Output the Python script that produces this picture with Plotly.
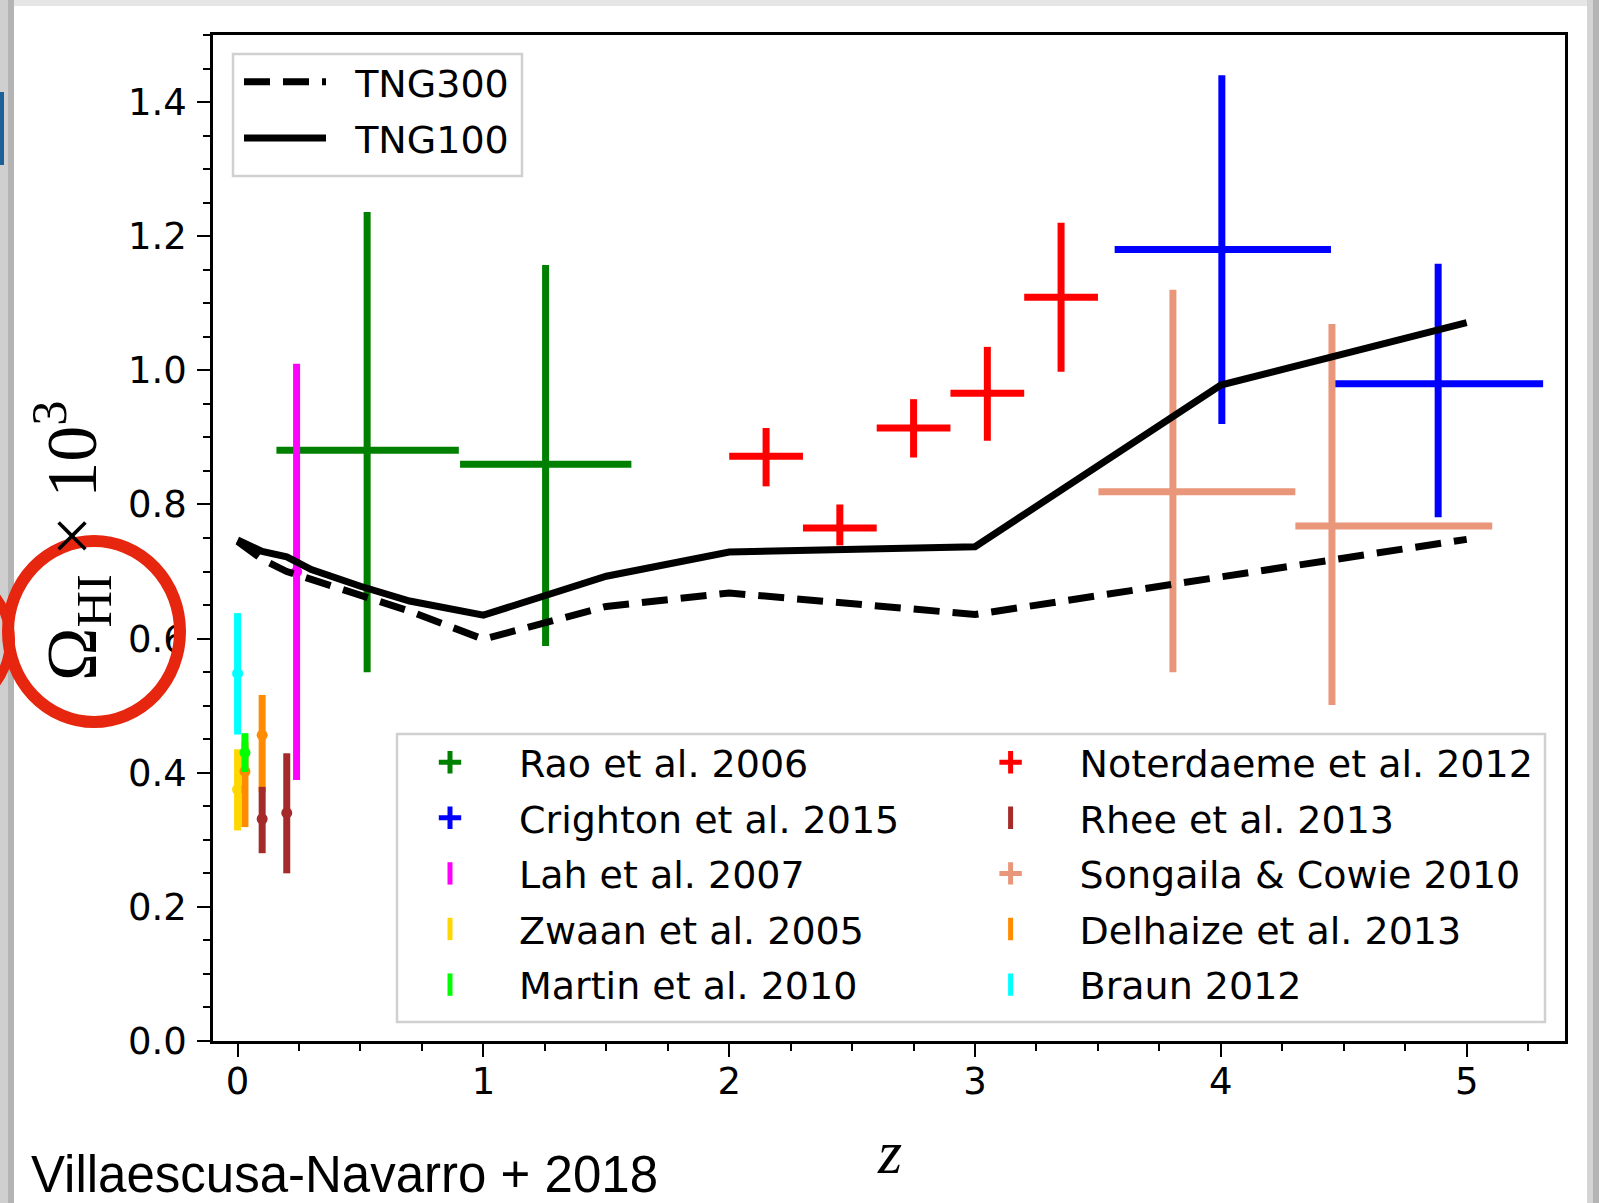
import plotly.graph_objects as go

# ---------------- data ----------------
tng_z = [0.0, 0.1, 0.2, 0.3, 0.5, 0.7, 1.0, 1.5, 2.0, 3.0, 4.0, 5.0]
tng300_omega = [0.745, 0.718, 0.700, 0.688, 0.664, 0.641, 0.599, 0.648, 0.668, 0.636, 0.692, 0.748]
tng100_omega = [0.747, 0.730, 0.722, 0.703, 0.678, 0.656, 0.635, 0.693, 0.729, 0.737, 0.978, 1.071]

# data with z-bins (xerr) and yerr
rao_z = [0.527, 1.253]
rao_zlo = [0.158, 0.905]
rao_zhi = [0.900, 1.602]
rao_om = [0.881, 0.860]
rao_lo = [0.550, 0.589]
rao_hi = [1.236, 1.157]

crighton_z = [4.004, 4.884]
crighton_zlo = [3.568, 4.461]
crighton_zhi = [4.448, 5.311]
crighton_om = [1.180, 0.980]
crighton_lo = [0.920, 0.781]
crighton_hi = [1.440, 1.159]

noter_z = [2.15, 2.45, 2.75, 3.05, 3.35]
noter_zlo = [2.0, 2.3, 2.6, 2.9, 3.2]
noter_zhi = [2.3, 2.6, 2.9, 3.2, 3.5]
noter_om = [0.872, 0.765, 0.914, 0.966, 1.109]
noter_lo = [0.827, 0.739, 0.870, 0.895, 0.998]
noter_hi = [0.914, 0.800, 0.957, 1.035, 1.220]

songaila_z = [3.805, 4.452]
songaila_zlo = [3.502, 4.303]
songaila_zhi = [4.303, 5.104]
songaila_om = [0.819, 0.768]
songaila_lo = [0.550, 0.501]
songaila_hi = [1.120, 1.069]

# data with yerr only
lah_z = [0.24]
lah_om = [0.700]
lah_lo = [0.389]
lah_hi = [1.010]

zwaan_z = [0.0]
zwaan_om = [0.375]
zwaan_lo = [0.314]
zwaan_hi = [0.435]

martin_z = [0.03]
martin_om = [0.430]
martin_lo = [0.401]
martin_hi = [0.459]

rhee_z = [0.10, 0.20]
rhee_om = [0.331, 0.340]
rhee_lo = [0.280, 0.250]
rhee_hi = [0.379, 0.429]

delhaize_z = [0.03, 0.10]
delhaize_om = [0.402, 0.456]
delhaize_lo = [0.319, 0.371]
delhaize_hi = [0.446, 0.516]

braun_z = [0.0]
braun_om = [0.548]
braun_lo = [0.457]
braun_hi = [0.638]

x_ticks = [0, 1, 2, 3, 4, 5]
y_ticks = [0.0, 0.2, 0.4, 0.6, 0.8, 1.0, 1.2, 1.4]
y_tick_text = ["0.0", "0.2", "0.4", "0.6", "0.8", "1.0", "1.2", "1.4"]

# ---------------- layout geometry ----------------
W, H = 1599, 1203
ML, MR, MT, MB = 213, 34, 35, 162
PW = W - ML - MR
PH = H - MT - MB


def pxx(px):
    return (px - ML) / PW


def pxy(py):
    return (H - MB - py) / PH


EB_W = 7
TICKFONT = dict(family="DejaVu Sans", size=37, color="black")
LEGFONT = dict(family="DejaVu Sans", size=38, color="black")
NB = "\u00a0"

fig = go.Figure()


def add_xy(name, color, z, zlo, zhi, om, lo, hi):
    fig.add_trace(go.Scatter(
        x=z, y=om, mode="markers", name=name, showlegend=False,
        marker=dict(size=1, color="rgba(0,0,0,0)"),
        error_x=dict(type="data", symmetric=False,
                     array=[b - a for a, b in zip(z, zhi)],
                     arrayminus=[a - b for a, b in zip(z, zlo)],
                     color=color, thickness=EB_W, width=0),
        error_y=dict(type="data", symmetric=False,
                     array=[b - a for a, b in zip(om, hi)],
                     arrayminus=[a - b for a, b in zip(om, lo)],
                     color=color, thickness=EB_W, width=0),
        hoverinfo="skip"))


def add_y(name, color, z, om, lo, hi):
    fig.add_trace(go.Scatter(
        x=z, y=om, mode="markers", name=name, showlegend=False,
        marker=dict(size=11, color=color),
        error_y=dict(type="data", symmetric=False,
                     array=[b - a for a, b in zip(om, hi)],
                     arrayminus=[a - b for a, b in zip(om, lo)],
                     color=color, thickness=EB_W, width=0),
        hoverinfo="skip"))


GREEN, BLUE, MAGENTA, GOLD, LIME = "#008000", "#0000ff", "#ff00ff", "#ffd700", "#00ff00"
RED, BROWN, SALMON, ORANGE, CYAN = "#ff0000", "#a52a2a", "#e9967a", "#ff8c00", "#00ffff"

add_xy("Rao et al. 2006", GREEN, rao_z, rao_zlo, rao_zhi, rao_om, rao_lo, rao_hi)
add_xy("Crighton et al. 2015", BLUE, crighton_z, crighton_zlo, crighton_zhi, crighton_om, crighton_lo, crighton_hi)
add_y("Lah et al. 2007", MAGENTA, lah_z, lah_om, lah_lo, lah_hi)
add_y("Zwaan et al. 2005", GOLD, zwaan_z, zwaan_om, zwaan_lo, zwaan_hi)
add_y("Delhaize et al. 2013", ORANGE, delhaize_z, delhaize_om, delhaize_lo, delhaize_hi)
add_y("Martin et al. 2010", LIME, martin_z, martin_om, martin_lo, martin_hi)
add_xy("Noterdaeme et al. 2012", RED, noter_z, noter_zlo, noter_zhi, noter_om, noter_lo, noter_hi)
add_y("Rhee et al. 2013", BROWN, rhee_z, rhee_om, rhee_lo, rhee_hi)
add_xy("Songaila & Cowie 2010", SALMON, songaila_z, songaila_zlo, songaila_zhi, songaila_om, songaila_lo, songaila_hi)
add_y("Braun 2012", CYAN, braun_z, braun_om, braun_lo, braun_hi)

# simulation curves
fig.add_trace(go.Scatter(x=tng_z, y=tng300_omega, mode="lines", name=NB * 2 + "TNG300",
                         line=dict(color="black", width=7, dash="26px,13px"),
                         legend="legend", legendgroup="a", hoverinfo="skip"))
fig.add_trace(go.Scatter(x=tng_z, y=tng100_omega, mode="lines", name=NB * 2 + "TNG100",
                         line=dict(color="black", width=7),
                         legend="legend", legendgroup="b", hoverinfo="skip"))

# legend entries for observational data
col1 = [("Rao et al. 2006", GREEN, "x"), ("Crighton et al. 2015", BLUE, "x"),
        ("Lah et al. 2007", MAGENTA, "y"), ("Zwaan et al. 2005", GOLD, "y"),
        ("Martin et al. 2010", LIME, "y")]
col2 = [("Noterdaeme et al. 2012", RED, "x"), ("Rhee et al. 2013", BROWN, "y"),
        ("Songaila & Cowie 2010", SALMON, "x"), ("Delhaize et al. 2013", ORANGE, "y"),
        ("Braun 2012", CYAN, "y")]
for legname, col in (("legend2", col1), ("legend3", col2)):
    for name, color, kind in col:
        sym = "cross-thin" if kind == "x" else "line-ns"
        fig.add_trace(go.Scatter(
            x=[None], y=[None], mode="markers", name=name, legend=legname,
            legendgroup=name,
            marker=dict(symbol=sym, size=16, color=color, line=dict(width=5, color=color)),
            hoverinfo="skip"))

axis_common = dict(
    showline=True, linecolor="black", linewidth=2.5, mirror=True,
    ticks="outside", ticklen=13, tickwidth=2, tickcolor="black",
    showgrid=False, zeroline=False, tickfont=TICKFONT,
)

fig.update_layout(
    width=W, height=H,
    margin=dict(l=ML, r=MR, t=MT, b=MB, pad=0),
    paper_bgcolor="white", plot_bgcolor="white",
    xaxis=dict(range=[-0.1, 5.4], tickvals=x_ticks, ticktext=[str(v) for v in x_ticks],
               minor=dict(dtick=0.25, tick0=0, ticks="outside", ticklen=7, tickwidth=2, tickcolor="black"),
               ticklabelstandoff=-7, **axis_common),
    yaxis=dict(range=[0, 1.5], tickvals=y_ticks, ticktext=y_tick_text,
               minor=dict(dtick=0.05, tick0=0, ticks="outside", ticklen=7, tickwidth=2, tickcolor="black"),
               ticklabelstandoff=3, **axis_common),
    legend=dict(x=pxx(239), y=pxy(50.5), xanchor="left", yanchor="top",
                bgcolor="rgba(0,0,0,0)", borderwidth=0, font=LEGFONT,
                itemwidth=82, tracegroupgap=4),
    legend2=dict(x=pxx(381), y=pxy(731), xanchor="left", yanchor="top",
                 bgcolor="rgba(0,0,0,0)", borderwidth=0, font=LEGFONT,
                 itemwidth=128, tracegroupgap=3.2),
    legend3=dict(x=pxx(941.6), y=pxy(731), xanchor="left", yanchor="top",
                 bgcolor="rgba(0,0,0,0)", borderwidth=0, font=LEGFONT,
                 itemwidth=128, tracegroupgap=3.2),
)

shapes = []
# slide frame / shadows
shapes.append(dict(type="rect", xref="paper", yref="paper", x0=pxx(0), x1=pxx(8), y0=pxy(H), y1=pxy(0),
                   fillcolor="#cfcfcf", line=dict(width=0), layer="below"))
shapes.append(dict(type="rect", xref="paper", yref="paper", x0=pxx(8), x1=pxx(14), y0=pxy(H), y1=pxy(0),
                   fillcolor="#b4b4b4", line=dict(width=0), layer="below"))
shapes.append(dict(type="rect", xref="paper", yref="paper", x0=pxx(14), x1=pxx(1587), y0=pxy(6), y1=pxy(0),
                   fillcolor="#e6e6e6", line=dict(width=0), layer="below"))
shapes.append(dict(type="rect", xref="paper", yref="paper", x0=pxx(1587), x1=pxx(1593), y0=pxy(H), y1=pxy(0),
                   fillcolor="#d4d4d4", line=dict(width=0), layer="below"))
shapes.append(dict(type="rect", xref="paper", yref="paper", x0=pxx(1593), x1=pxx(W), y0=pxy(H), y1=pxy(0),
                   fillcolor="#b4b4b4", line=dict(width=0), layer="below"))
shapes.append(dict(type="rect", xref="paper", yref="paper", x0=pxx(0), x1=pxx(4), y0=pxy(165), y1=pxy(92),
                   fillcolor="#1d5f98", line=dict(width=0), layer="below"))
# legend frames
shapes.append(dict(type="rect", xref="paper", yref="paper", x0=pxx(233), x1=pxx(522), y0=pxy(176), y1=pxy(54),
                   fillcolor="white", line=dict(color="#d0d0d0", width=2.5), layer="above"))
shapes.append(dict(type="rect", xref="paper", yref="paper", x0=pxx(397), x1=pxx(1545), y0=pxy(1022), y1=pxy(734),
                   fillcolor="white", line=dict(color="#d0d0d0", width=2.5), layer="above"))
# red hand-drawn circle
shapes.append(dict(type="circle", xref="paper", yref="paper", x0=pxx(8), x1=pxx(180), y0=pxy(722), y1=pxy(541),
                   line=dict(color="#e6260f", width=12), layer="above"))
shapes.append(dict(type="circle", xref="paper", yref="paper", x0=pxx(-150), x1=pxx(10), y0=pxy(715), y1=pxy(565),
                   line=dict(color="#e6260f", width=10), layer="above"))

annotations = [
    dict(text="Ω<sub>HI</sub> × 10<sup>3</sup>", xref="paper", yref="paper",
         x=pxx(71), y=pxy(541), xanchor="center", yanchor="middle", textangle=-90,
         showarrow=False, font=dict(family="Liberation Serif", size=72, color="black")),
    dict(text="<i>z</i>", xref="paper", yref="paper", x=pxx(889), y=pxy(1152),
         xanchor="center", yanchor="middle", showarrow=False,
         font=dict(family="Liberation Serif", size=62, color="black")),
    dict(text="Villaescusa-Navarro + 2018", xref="paper", yref="paper", x=pxx(29), y=pxy(1174),
         xanchor="left", yanchor="middle", height=56, valign="middle", showarrow=False,
         font=dict(family="Liberation Sans", size=51, color="black")),
]

fig.update_layout(shapes=shapes, annotations=annotations)
fig.write_html("out.html")
